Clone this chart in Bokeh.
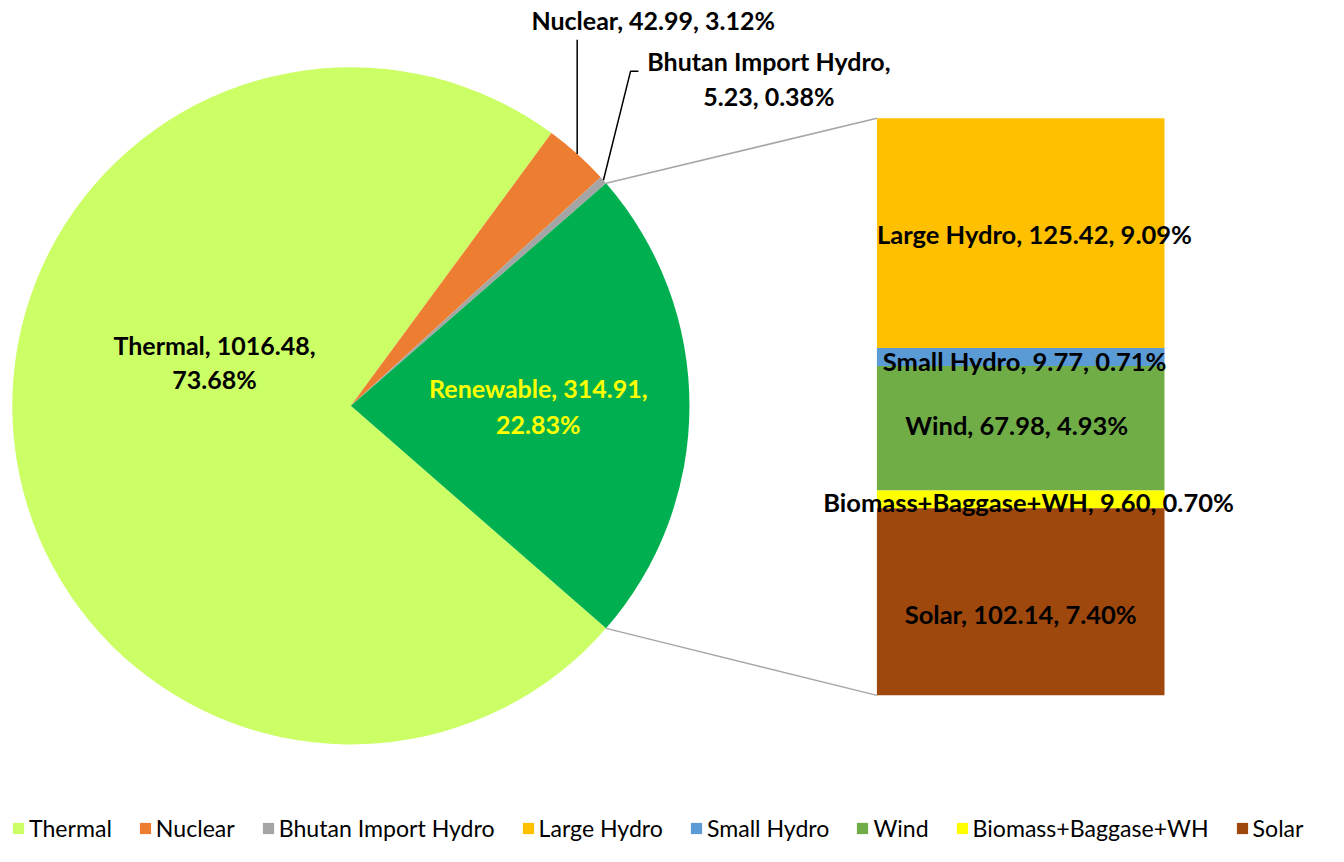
import math
from bokeh.plotting import figure
from bokeh.models import Range1d, Legend, LegendItem, ColumnDataSource
from bokeh.core.properties import value
from bokeh.embed import file_html
from bokeh.resources import INLINE

# ---------------- data ----------------
pie_categories = ["Thermal", "Nuclear", "Bhutan Import Hydro", "Renewable"]
pie_values = [1016.48, 42.99, 5.23, 314.91]
pie_percents = ["73.68%", "3.12%", "0.38%", "22.83%"]
pie_colors = ["#CCFF66", "#ED7D31", "#A5A5A5", "#00B050"]

bar_categories = ["Large Hydro", "Small Hydro", "Wind", "Biomass+Baggase+WH", "Solar"]
bar_values = [125.42, 9.77, 67.98, 9.60, 102.14]
bar_percents = ["9.09%", "0.71%", "4.93%", "0.70%", "7.40%"]
bar_colors = ["#FFC000", "#5B9BD5", "#70AD47", "#FFFF00", "#9E480E"]

# ---------------- layout ----------------
W, H = 1328, 846
TOP = 862            # layout coordinates: x = reference column, y = TOP - reference row
S = H / TOP          # pixels per layout unit
FONT = "Lato"

def px(v):
    return f"{v * S:.1f}px"

p = figure(width=W, height=H, x_range=Range1d(0, W / S), y_range=Range1d(0, TOP),
           output_backend="svg", toolbar_location=None, min_border=0,
           x_axis_location=None, y_axis_location=None)
p.grid.visible = False
p.outline_line_color = None
p.background_fill_color = "white"

# pie
cx, cy, R = 357, TOP - 413, 345
total = sum(pie_values)
fr = [v / total * 2 * math.pi for v in pie_values]
ren = fr[3]
ang = {3: (-ren / 2, ren / 2)}
a = ren / 2
for idx in [2, 1, 0]:  # anticlockwise from top of renewable slice
    ang[idx] = (a, a + fr[idx])
    a += fr[idx]
starts = [ang[i][0] for i in range(4)]
ends = [ang[i][1] for i in range(4)]
pie_src = ColumnDataSource(dict(start=starts, end=ends, color=pie_colors, cat=pie_categories))
wedges = p.wedge(x=cx, y=cy, radius=R, start_angle="start", end_angle="end",
                 direction="anticlock", fill_color="color", line_color=None, source=pie_src)

# stacked bar (extra range in value units)
bar_bottom_y, bar_top_y = TOP - 708, TOP - 120
bar_total = sum(bar_values)
k = bar_total / (bar_top_y - bar_bottom_y)
p.extra_y_ranges = {"bar": Range1d((0 - bar_bottom_y) * k, (TOP - bar_bottom_y) * k)}
bottoms = [0.0] * len(bar_values)
acc = 0.0
for i in reversed(range(len(bar_values))):
    bottoms[i] = acc
    acc += bar_values[i]
tops = [b + v for b, v in zip(bottoms, bar_values)]
mids = [(b + t) / 2 for b, t in zip(bottoms, tops)]
bar_x, bar_w = 1039.5, 293
# label nudges (screen px) as placed in the original
lab_dx = [14, 4, -4, 8, 0]
lab_dy = [1, 4, -3, 3, 12]
bar_src = ColumnDataSource(dict(x=[bar_x] * 5, bottom=bottoms, top=tops, color=bar_colors,
                                mid=mids, dx=[d * S for d in lab_dx], dy=[d * S for d in lab_dy],
                                label=[f"{c}, {v:.2f}, {pc}" for c, v, pc in zip(bar_categories, bar_values, bar_percents)]))
bars = p.vbar(x="x", bottom="bottom", top="top", width=bar_w, fill_color="color",
              line_color=None, source=bar_src, y_range_name="bar")
p.text(x="x", y="mid", text="label", source=bar_src, y_range_name="bar",
       x_offset="dx", y_offset="dy",
       text_align="center", text_baseline="middle", text_font=value(FONT),
       text_font_style="bold", text_font_size=px(26), text_color="black")

# connector lines from renewable slice to bar
bar_left = bar_x - bar_w / 2
p.segment(x0=[cx + R * math.cos(ren / 2), cx + R * math.cos(-ren / 2)],
          y0=[cy + R * math.sin(ren / 2), cy + R * math.sin(-ren / 2)],
          x1=[bar_left, bar_left], y1=[bar_top_y, bar_bottom_y],
          line_color="#A6A6A6", line_width=1.5)

# leader lines
nuc_mid = (ang[1][0] + ang[1][1]) / 2
nx, ny = cx + R * math.cos(nuc_mid), cy + R * math.sin(nuc_mid)
p.line(x=[nx, nx], y=[ny, TOP - 40], line_color="black", line_width=1.5)
bh_mid = (ang[2][0] + ang[2][1]) / 2
bx, by = cx + R * math.cos(bh_mid), cy + R * math.sin(bh_mid)
p.line(x=[bx, 642, 650], y=[by, TOP - 72, TOP - 72], line_color="black", line_width=1.5)

# pie labels
def lbl(x, y, t, color="black"):
    p.text(x=[x], y=[TOP - y], text=[t], text_align="center", text_baseline="middle",
           text_font=value(FONT), text_font_style="bold", text_font_size=px(25.5),
           text_color=color)

lbl(218, 351, f"{pie_categories[0]}, {pie_values[0]:.2f},")
lbl(218, 386, pie_percents[0])
lbl(665, 20, f"{pie_categories[1]}, {pie_values[1]:.2f}, {pie_percents[1]}")
lbl(783, 62, f"{pie_categories[2]},")
lbl(783, 97, f"{pie_values[2]:.2f}, {pie_percents[2]}")
lbl(548, 395, f"{pie_categories[3]}, {pie_values[3]:.2f},", "#FFFF00")
lbl(548, 432, pie_percents[3], "#FFFF00")

# legend
items = [LegendItem(label=pie_categories[i], renderers=[wedges], index=i) for i in range(3)]
items += [LegendItem(label=bar_categories[i], renderers=[bars], index=i) for i in range(5)]
legend = Legend(items=items, orientation="horizontal", location=(11, 4),
                glyph_width=14, glyph_height=14, label_standoff=4, spacing=26,
                padding=0, margin=0, border_line_color=None, background_fill_alpha=0,
                label_text_font=FONT, label_text_font_size=px(23.5), label_height=20,
                label_text_color="black")
p.add_layout(legend)

open("out.html", "w").write(file_html(p, INLINE))
